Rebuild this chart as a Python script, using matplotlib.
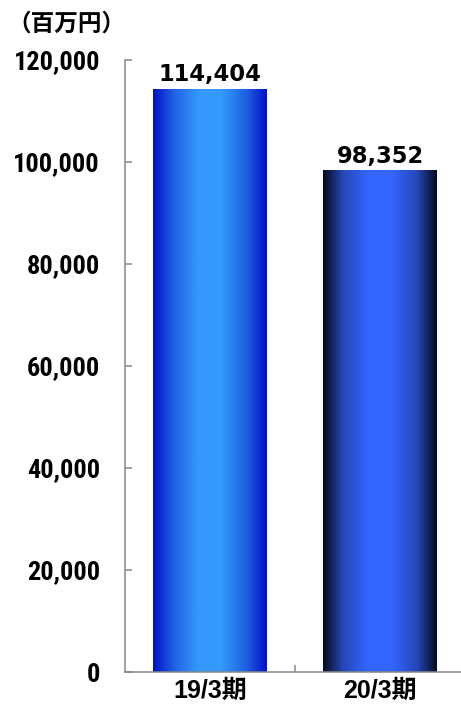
import numpy as np
import matplotlib
matplotlib.use("Agg")
import matplotlib.pyplot as plt
from matplotlib import font_manager
from matplotlib.colors import LinearSegmentedColormap

# data
categories = ["19/3期", "20/3期"]
values = [114404, 98352]
value_labels = ["114,404", "98,352"]
yticks = [0, 20000, 40000, 60000, 80000, 100000, 120000]
ytick_labels = ["0", "20,000", "40,000", "60,000", "80,000", "100,000", "120,000"]

# horizontal gradient per bar: edge -> mid -> centre
bar_stops = [
    ["#0010C8", "#1F5FE0", "#3399FF"],
    ["#060A1C", "#2547B8", "#3366FF"],
]

installed = {f.name for f in font_manager.fontManager.ttflist}
narrow = next((f for f in ["Roboto Condensed", "Asap Condensed", "Archivo Narrow", "Liberation Sans"]
               if f in installed), "DejaVu Sans")
cjk = "Noto Sans CJK JP"

W, H = 461, 706
fig = plt.figure(figsize=(W / 100, H / 100), dpi=100)
ax = fig.add_axes([125 / W, (H - 672) / H, 340 / W, (672 - 60) / H])

x = np.arange(len(categories))
bars = ax.bar(x, values, width=0.67, color="none", edgecolor="none", zorder=2)

ramp = np.abs(np.linspace(-1, 1, 256))
for bar, stops in zip(bars, bar_stops):
    cmap = LinearSegmentedColormap.from_list(
        "g", [(0, stops[2]), (0.2, stops[2]), (0.65, stops[1]), (1, stops[0])])
    img = ax.imshow(ramp[np.newaxis, :], cmap=cmap, aspect="auto",
                    extent=[bar.get_x(), bar.get_x() + bar.get_width(), 0, bar.get_height()],
                    zorder=1)
    img.set_clip_path(bar)

for bar, lab in zip(bars, value_labels):
    ax.annotate(lab, (bar.get_x() + bar.get_width() / 2, bar.get_height()),
                xytext=(0, 2), textcoords="offset points", ha="center", va="bottom",
                fontsize=16.3, fontweight="bold", family="DejaVu Sans")

ax.set_xlim(-0.5, 1.5)
ax.set_ylim(0, 120000)

ax.set_yticks(yticks)
ax.set_yticklabels(ytick_labels, family=narrow, fontweight="bold", fontsize=19)
ax.tick_params(axis="y", direction="in", length=5, width=1.1, color="#888888", pad=18)

ax.set_xticks(x)
ax.set_xticklabels(categories, family=["Liberation Sans", cjk], fontweight="bold", fontsize=18)
ax.tick_params(axis="x", which="major", length=0, pad=5)
ax.set_xticks([0.5], minor=True)
ax.tick_params(axis="x", which="minor", direction="in", length=5, width=1.1, color="#888888")

for s in ["top", "right"]:
    ax.spines[s].set_visible(False)
for s in ["left", "bottom"]:
    ax.spines[s].set_color("#888888")
    ax.spines[s].set_linewidth(1.1)

fig.text(7 / W, 1 - 24 / H, "（百万円）", family=[cjk, "DejaVu Sans"], fontweight="bold",
         fontsize=17, va="center", ha="left")

fig.savefig("out.png", dpi=100)
